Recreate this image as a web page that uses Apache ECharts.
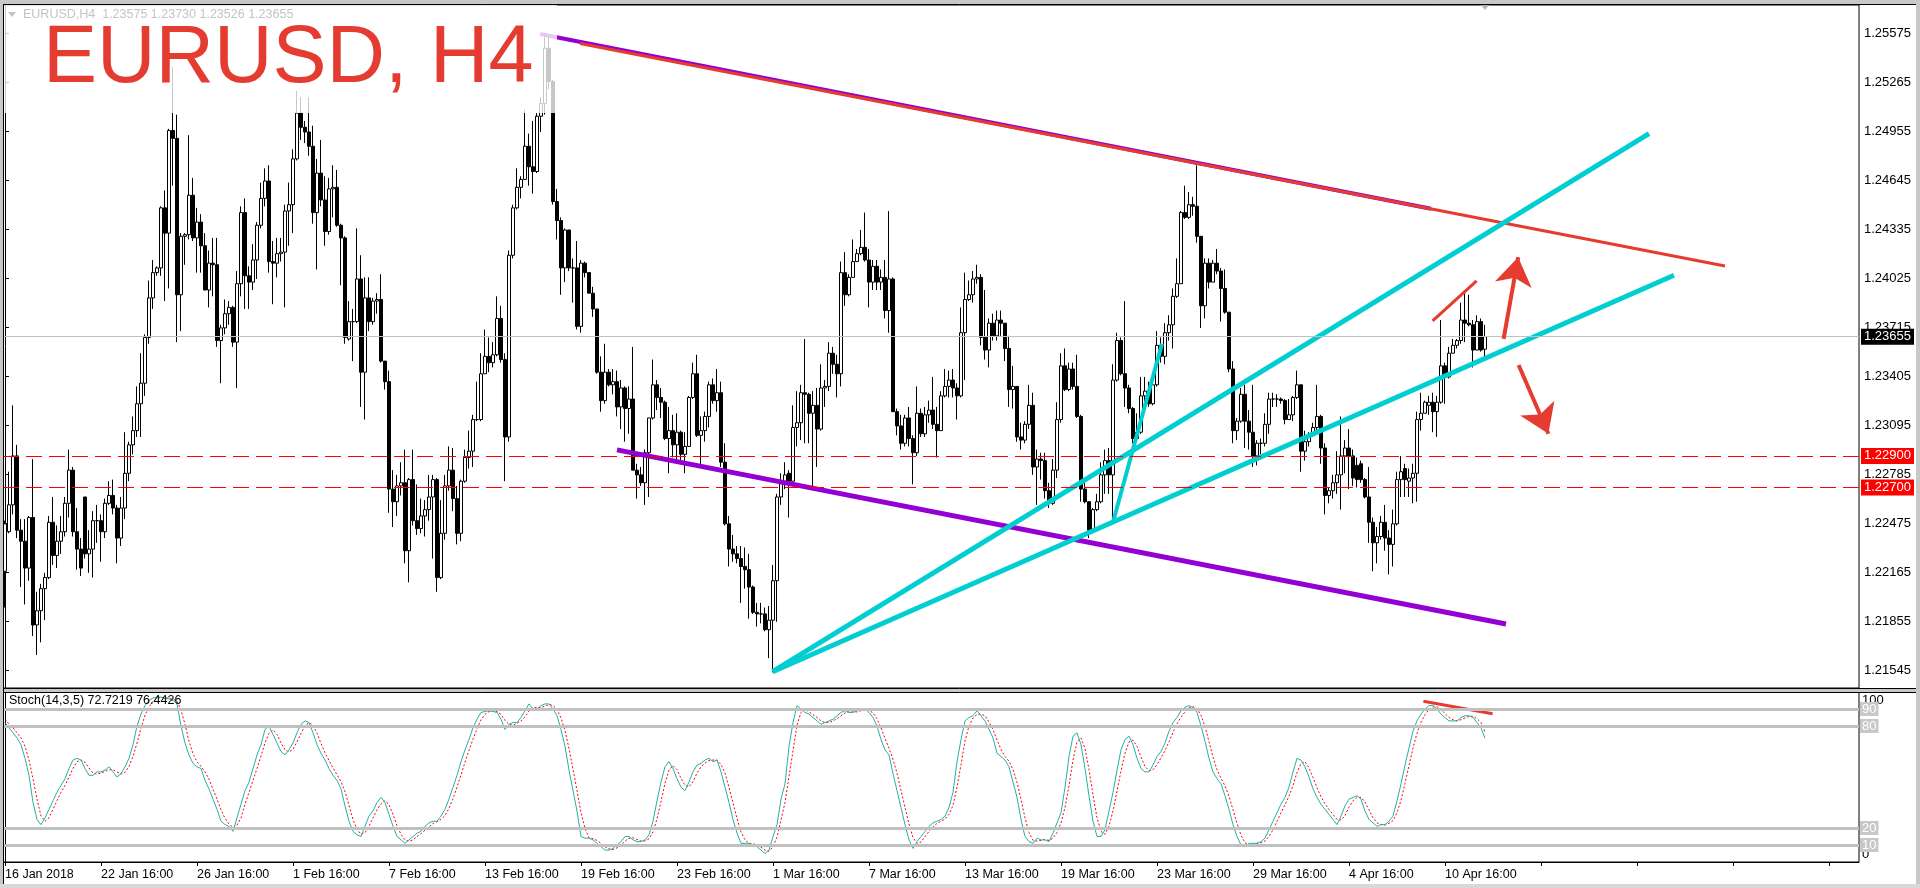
<!DOCTYPE html>
<html><head><meta charset="utf-8">
<script src="https://cdn.jsdelivr.net/npm/echarts@6/dist/echarts.min.js"></script>
<style>html,body{margin:0;padding:0;background:#fff;}#c{width:1920px;height:888px;}</style>
</head><body><div id="c"></div>
<script>
// ---------- DATA ----------
const opens = [
1.2217,1.2242,1.2259,1.2290,1.2243,1.2236,1.2219,1.2251,1.2183,1.2192,
1.2206,1.2213,1.2248,1.2227,1.2236,1.2242,1.2260,1.2281,1.2242,1.2231,
1.2264,1.2228,1.2231,1.2249,1.2249,1.2242,1.2260,1.2265,1.2257,1.2238,
1.2257,1.2279,1.2297,1.2306,1.2323,1.2336,1.2365,1.2390,1.2406,1.2409,
1.2447,1.2431,1.2496,1.2491,1.2392,1.2429,1.2430,1.2455,1.2428,1.2438,
1.2423,1.2395,1.2412,1.2411,1.2363,1.2371,1.2380,1.2384,1.2362,1.2399,
1.2444,1.2404,1.2400,1.2414,1.2436,1.2453,1.2464,1.2413,1.2412,1.2418,
1.2419,1.2445,1.2449,1.2478,1.2507,1.2498,1.2495,1.2486,1.2444,1.2469,
1.2452,1.2432,1.2459,1.2460,1.2436,1.2428,1.2364,1.2375,1.2375,1.2402,
1.2343,1.2390,1.2375,1.2388,1.2389,1.2350,1.2337,1.2269,1.2261,1.2271,
1.2273,1.2230,1.2275,1.2249,1.2244,1.2252,1.2256,1.2264,1.2275,1.2213,
1.2241,1.2271,1.2281,1.2263,1.2241,1.2274,1.2289,1.2293,1.2313,1.2313,
1.2342,1.2353,1.2349,1.2354,1.2377,1.2351,1.2302,1.2417,1.2447,1.2460,
1.2465,1.2486,1.2473,1.2470,1.2505,1.2513,1.2548,1.2527,1.2451,1.2439,
1.2409,1.2433,1.2409,1.2409,1.2372,1.2412,1.2406,1.2393,1.2383,1.2343,
1.2325,1.2343,1.2335,1.2337,1.2321,1.2333,1.2320,1.2326,1.2281,1.2278,
1.2273,1.2292,1.2314,1.2335,1.2327,1.2324,1.2301,1.2306,1.2297,1.2305,
1.2291,1.2296,1.2327,1.2342,1.2303,1.2306,1.2315,1.2335,1.2325,1.2330,
1.2286,1.2247,1.2231,1.2228,1.2225,1.2220,1.2218,1.2207,1.2191,1.2190,
1.2190,1.2180,1.2186,1.2211,1.2264,1.2273,1.2279,1.2274,1.2308,1.2311,
1.2330,1.2329,1.2317,1.2322,1.2307,1.2333,1.2334,1.2355,1.2348,1.2342,
1.2406,1.2392,1.2403,1.2413,1.2418,1.2422,1.2414,1.2400,1.2410,1.2400,
1.2403,1.2382,1.2402,1.2318,1.2309,1.2298,1.2314,1.2301,1.2292,1.2317,
1.2304,1.2316,1.2319,1.2310,1.2306,1.2328,1.2334,1.2338,1.2333,1.2328,
1.2368,1.2389,1.2392,1.2402,1.2403,1.2365,1.2357,1.2374,1.2366,1.2376,
1.2374,1.2358,1.2332,1.2334,1.2302,1.2300,1.2310,1.2322,1.2283,1.2288,
1.2287,1.2268,1.2260,1.2281,1.2313,1.2347,1.2332,1.2345,1.2334,1.2315,
1.2269,1.2261,1.2243,1.2256,1.2261,1.2278,1.2287,1.2278,1.2338,1.2363,
1.2342,1.2333,1.2320,1.2301,1.2305,1.2328,1.2331,1.2323,1.2335,1.2360,
1.2353,1.2368,1.2373,1.2391,1.2399,1.2444,1.2441,1.2449,1.2448,1.2429,
1.2385,1.2412,1.2400,1.2412,1.2407,1.2396,1.2381,1.2345,1.2306,1.2312,
1.2329,1.2312,1.2305,1.2290,1.2298,1.2298,1.2310,1.2326,1.2326,1.2326,
1.2325,1.2313,1.2316,1.2327,1.2335,1.2293,1.2299,1.2303,1.2308,1.2315,
1.2295,1.2265,1.2268,1.2273,1.2278,1.2290,1.2295,1.2290,1.2284,1.2285,
1.2275,1.2264,1.2248,1.2235,1.2239,1.2248,1.2238,1.2234,1.2247,1.2275,
1.2282,1.2274,1.2276,1.2279,1.2313,1.2317,1.2322,1.2324,1.2318,1.2324,
1.2347,1.2340,1.2355,1.2360,1.2363,1.2376,1.2374,1.2373,1.2357,1.2375,
1.23575];
const highs = [
1.2249,1.2280,1.2322,1.2297,1.2250,1.2250,1.2252,1.2288,1.2204,1.2209,
1.2216,1.2252,1.2264,1.2246,1.2252,1.2264,1.2294,1.2283,1.2257,1.2238,
1.2264,1.2243,1.2255,1.2259,1.2253,1.2263,1.2274,1.2275,1.2259,1.2264,
1.2305,1.2299,1.2315,1.2334,1.2355,1.2367,1.2401,1.2414,1.2410,1.2448,
1.2458,1.2497,1.2536,1.2506,1.2431,1.2431,1.2493,1.2466,1.2447,1.2443,
1.2431,1.2420,1.2428,1.2428,1.2373,1.2389,1.2388,1.2385,1.2407,1.2448,
1.2453,1.2410,1.2424,1.2438,1.2463,1.2472,1.2474,1.2426,1.2428,1.2428,
1.2449,1.2463,1.2484,1.2521,1.2517,1.2502,1.2517,1.2499,1.2478,1.2490,
1.2467,1.2466,1.2474,1.2471,1.2437,1.2429,1.2388,1.2383,1.2434,1.2417,
1.2403,1.2403,1.2390,1.2393,1.2405,1.2350,1.2344,1.2281,1.2278,1.2286,
1.2294,1.2276,1.2294,1.2272,1.2263,1.2262,1.2278,1.2278,1.2276,1.2262,
1.2278,1.2296,1.2295,1.2271,1.2275,1.2294,1.2306,1.2316,1.2337,1.2355,
1.2370,1.2365,1.2362,1.2391,1.2385,1.2355,1.2420,1.2449,1.2472,1.2467,
1.2509,1.2494,1.2502,1.2507,1.2517,1.2555,1.2555,1.2528,1.2459,1.2441,
1.2434,1.2433,1.2415,1.2426,1.2414,1.2413,1.2406,1.2397,1.2383,1.2353,
1.2361,1.2345,1.2345,1.2344,1.2338,1.2334,1.2334,1.2359,1.2285,1.2283,
1.2294,1.2314,1.2351,1.2338,1.2333,1.2325,1.2321,1.2316,1.2317,1.2306,
1.2305,1.2328,1.2349,1.2354,1.2315,1.2318,1.2337,1.2339,1.2345,1.2337,
1.2298,1.2252,1.2240,1.2233,1.2233,1.2232,1.2228,1.2208,1.2197,1.2197,
1.2194,1.2195,1.2221,1.2266,1.2279,1.2286,1.2281,1.2322,1.2331,1.2335,
1.2364,1.2330,1.2331,1.2333,1.2348,1.2338,1.2362,1.2359,1.2354,1.2413,
1.2419,1.2405,1.2427,1.2421,1.2433,1.2444,1.2421,1.2414,1.2414,1.2408,
1.2414,1.2445,1.2403,1.2320,1.2316,1.2316,1.2321,1.2303,1.2334,1.2320,
1.2321,1.2325,1.2340,1.2321,1.2331,1.2345,1.2344,1.2345,1.2336,1.2384,
1.2406,1.2401,1.2407,1.2411,1.2405,1.2395,1.2377,1.2380,1.2382,1.2382,
1.2374,1.2366,1.2347,1.2334,1.2311,1.2312,1.2335,1.2330,1.2294,1.2292,
1.2292,1.2273,1.2288,1.2324,1.2355,1.2358,1.2349,1.2349,1.2354,1.2316,
1.2275,1.2261,1.2257,1.2266,1.2286,1.2294,1.2295,1.2348,1.2368,1.2365,
1.2388,1.2335,1.2321,1.2317,1.2340,1.2340,1.2337,1.2340,1.2369,1.2365,
1.2374,1.2379,1.2396,1.2415,1.2445,1.2461,1.2457,1.2454,1.2474,1.2429,
1.2415,1.2415,1.2414,1.2421,1.2409,1.2408,1.2381,1.2350,1.2314,1.2333,
1.2335,1.2319,1.2335,1.2300,1.2301,1.2317,1.2330,1.2330,1.2329,1.2327,
1.2326,1.2326,1.2328,1.2344,1.2335,1.2306,1.2305,1.2311,1.2335,1.2316,
1.2298,1.2270,1.2278,1.2293,1.2315,1.2300,1.2307,1.2294,1.2289,1.2287,
1.2276,1.2283,1.2251,1.2245,1.2252,1.2259,1.2243,1.2256,1.2280,1.2290,
1.2285,1.2282,1.2285,1.2318,1.2330,1.2325,1.2328,1.2330,1.2328,1.2376,
1.2349,1.2359,1.2364,1.2364,1.2387,1.2393,1.2392,1.2376,1.2379,1.2377,
1.23730];
const lows = [
1.2194,1.2241,1.2253,1.2238,1.2207,1.2196,1.2211,1.2176,1.2164,1.2172,
1.2186,1.2212,1.2221,1.2219,1.2228,1.2239,1.2251,1.2239,1.2218,1.2214,
1.2225,1.2216,1.2213,1.2235,1.2223,1.2238,1.2259,1.2253,1.2222,1.2233,
1.2250,1.2274,1.2291,1.2302,1.2302,1.2328,1.2361,1.2383,1.2404,1.2404,
1.2388,1.2396,1.2461,1.2362,1.2369,1.2411,1.2427,1.2426,1.2406,1.2406,
1.2395,1.2384,1.2391,1.2359,1.2336,1.2367,1.2373,1.2359,1.2333,1.2391,
1.2383,1.2383,1.2395,1.2402,1.2434,1.2448,1.2406,1.2386,1.2403,1.2413,
1.2384,1.2423,1.2431,1.2477,1.2490,1.2488,1.2480,1.2437,1.2408,1.2448,
1.2423,1.2430,1.2441,1.2435,1.2398,1.2361,1.2363,1.2350,1.2374,1.2321,
1.2313,1.2369,1.2373,1.2380,1.2349,1.2332,1.2254,1.2245,1.2252,1.2265,
1.2222,1.2210,1.2246,1.2240,1.2241,1.2239,1.2249,1.2225,1.2204,1.2212,
1.2237,1.2268,1.2255,1.2234,1.2236,1.2273,1.2282,1.2283,1.2312,1.2312,
1.2342,1.2343,1.2346,1.2353,1.2349,1.2274,1.2299,1.2415,1.2446,1.2453,
1.2465,1.2461,1.2456,1.2469,1.2495,1.2506,1.2522,1.2449,1.2427,1.2392,
1.2400,1.2407,1.2387,1.2370,1.2368,1.2403,1.2393,1.2378,1.2342,1.2318,
1.2323,1.2334,1.2329,1.2315,1.2307,1.2299,1.2304,1.2281,1.2263,1.2271,
1.2259,1.2264,1.2313,1.2319,1.2314,1.2300,1.2279,1.2289,1.2287,1.2286,
1.2279,1.2296,1.2326,1.2302,1.2284,1.2299,1.2308,1.2323,1.2318,1.2283,
1.2246,1.2220,1.2223,1.2222,1.2197,1.2206,1.2187,1.2190,1.2182,1.2184,
1.2179,1.2162,1.2153,1.2185,1.2259,1.2269,1.2251,1.2274,1.2296,1.2300,
1.2298,1.2298,1.2270,1.2283,1.2306,1.2321,1.2331,1.2342,1.2327,1.2334,
1.2385,1.2391,1.2403,1.2413,1.2417,1.2413,1.2384,1.2395,1.2395,1.2395,
1.2377,1.2368,1.2318,1.2303,1.2294,1.2296,1.2296,1.2272,1.2290,1.2302,
1.2302,1.2311,1.2307,1.2289,1.2306,1.2327,1.2327,1.2327,1.2313,1.2327,
1.2338,1.2388,1.2387,1.2399,1.2360,1.2351,1.2346,1.2363,1.2363,1.2366,
1.2350,1.2321,1.2320,1.2299,1.2294,1.2298,1.2307,1.2278,1.2259,1.2275,
1.2263,1.2257,1.2259,1.2276,1.2311,1.2331,1.2331,1.2332,1.2314,1.2261,
1.2260,1.2238,1.2241,1.2255,1.2260,1.2266,1.2266,1.2250,1.2337,1.2341,
1.2321,1.2317,1.2298,1.2300,1.2304,1.2323,1.2321,1.2322,1.2334,1.2349,
1.2348,1.2363,1.2358,1.2390,1.2399,1.2440,1.2440,1.2442,1.2425,1.2371,
1.2377,1.2396,1.2400,1.2405,1.2375,1.2380,1.2343,1.2298,1.2300,1.2311,
1.2295,1.2294,1.2283,1.2284,1.2291,1.2296,1.2304,1.2321,1.2321,1.2323,
1.2310,1.2313,1.2312,1.2326,1.2280,1.2287,1.2296,1.2302,1.2306,1.2285,
1.2253,1.2260,1.2263,1.2266,1.2256,1.2279,1.2269,1.2271,1.2270,1.2273,
1.2263,1.2235,1.2217,1.2222,1.2237,1.2230,1.2215,1.2220,1.2246,1.2264,
1.2264,1.2264,1.2260,1.2261,1.2306,1.2317,1.2316,1.2305,1.2302,1.2323,
1.2323,1.2339,1.2355,1.2358,1.2361,1.2362,1.2372,1.2346,1.2357,1.2356,
1.23526];
const closes = [
1.2247,1.2259,1.2290,1.2243,1.2236,1.2219,1.2251,1.2183,1.2192,1.2206,
1.2213,1.2248,1.2227,1.2236,1.2242,1.2260,1.2281,1.2242,1.2231,1.2219,
1.2228,1.2231,1.2249,1.2249,1.2242,1.2260,1.2265,1.2257,1.2238,1.2257,
1.2279,1.2297,1.2306,1.2323,1.2336,1.2365,1.2390,1.2406,1.2409,1.2447,
1.2431,1.2496,1.2491,1.2392,1.2429,1.2430,1.2455,1.2428,1.2438,1.2423,
1.2395,1.2412,1.2411,1.2363,1.2371,1.2380,1.2384,1.2362,1.2399,1.2444,
1.2404,1.2400,1.2414,1.2436,1.2453,1.2464,1.2413,1.2412,1.2418,1.2419,
1.2445,1.2449,1.2478,1.2507,1.2498,1.2495,1.2486,1.2444,1.2469,1.2452,
1.2432,1.2459,1.2460,1.2436,1.2428,1.2365,1.2375,1.2375,1.2402,1.2343,
1.2390,1.2375,1.2388,1.2389,1.2350,1.2337,1.2269,1.2261,1.2271,1.2273,
1.2230,1.2275,1.2249,1.2244,1.2252,1.2256,1.2264,1.2275,1.2213,1.2241,
1.2271,1.2281,1.2263,1.2241,1.2274,1.2289,1.2293,1.2313,1.2313,1.2342,
1.2353,1.2349,1.2354,1.2377,1.2351,1.2302,1.2417,1.2447,1.2460,1.2465,
1.2486,1.2473,1.2470,1.2505,1.2513,1.2548,1.2527,1.2451,1.2439,1.2409,
1.2433,1.2409,1.2409,1.2372,1.2412,1.2406,1.2393,1.2383,1.2343,1.2325,
1.2343,1.2335,1.2337,1.2321,1.2333,1.2320,1.2326,1.2281,1.2278,1.2273,
1.2292,1.2314,1.2335,1.2327,1.2324,1.2301,1.2306,1.2297,1.2305,1.2291,
1.2296,1.2327,1.2342,1.2303,1.2306,1.2315,1.2335,1.2325,1.2330,1.2286,
1.2247,1.2231,1.2228,1.2225,1.2220,1.2218,1.2207,1.2191,1.2190,1.2190,
1.2180,1.2186,1.2211,1.2264,1.2273,1.2278,1.2274,1.2308,1.2311,1.2330,
1.2329,1.2317,1.2322,1.2307,1.2333,1.2334,1.2355,1.2348,1.2342,1.2406,
1.2392,1.2403,1.2413,1.2418,1.2422,1.2414,1.2400,1.2410,1.2400,1.2403,
1.2382,1.2402,1.2318,1.2309,1.2298,1.2314,1.2301,1.2292,1.2317,1.2304,
1.2316,1.2319,1.2310,1.2306,1.2328,1.2334,1.2338,1.2333,1.2328,1.2368,
1.2389,1.2392,1.2402,1.2403,1.2365,1.2357,1.2374,1.2366,1.2376,1.2374,
1.2358,1.2332,1.2334,1.2302,1.2300,1.2310,1.2322,1.2283,1.2288,1.2287,
1.2268,1.2260,1.2281,1.2313,1.2347,1.2332,1.2345,1.2334,1.2315,1.2269,
1.2261,1.2243,1.2256,1.2261,1.2278,1.2287,1.2278,1.2338,1.2363,1.2342,
1.2333,1.2320,1.2301,1.2305,1.2328,1.2331,1.2323,1.2335,1.2360,1.2353,
1.2368,1.2373,1.2391,1.2399,1.2444,1.2441,1.2449,1.2448,1.2429,1.2385,
1.2412,1.2400,1.2412,1.2407,1.2396,1.2381,1.2345,1.2306,1.2312,1.2329,
1.2312,1.2305,1.2290,1.2298,1.2298,1.2310,1.2326,1.2326,1.2326,1.2325,
1.2313,1.2316,1.2327,1.2335,1.2293,1.2299,1.2303,1.2308,1.2315,1.2295,
1.2265,1.2268,1.2273,1.2278,1.2290,1.2295,1.2290,1.2276,1.2275,1.2275,
1.2264,1.2248,1.2235,1.2239,1.2248,1.2238,1.2234,1.2247,1.2275,1.2280,
1.2275,1.2276,1.2279,1.2313,1.2317,1.2324,1.2324,1.2318,1.2324,1.2347,
1.2340,1.2355,1.2360,1.2363,1.2376,1.2374,1.2373,1.2357,1.2375,1.2357,
1.23655];
const stochMain = [
82,79,76,73,69,61,51,35,25,22,
26,31,36,41,45,49,55,60,61,60,
55,51,51,53,53,54,56,53,50,52,
56,61,69,80,87,92,95,96.5,97,97,
96,96,95,93,80,70,63,58,56,55,
48,43,37,31,24,22,21,18,26,34,
42,47,55,63,69,78,80,75,70,65,
63,66,70,76,81,83,82,76,69,64,
60,55,51,48,43,33,24,18,16,15,
21,27,30,35,38,35,28,21,15,13,
11,13,15,17,18,21,23,24,24,27,
31,37,44,51,59,66,72,79,84,88,
88.5,89,88.5,88,84,78,81,82,82,85,
89,93,90,90,92,93,93,90,86,78,
68,54,42,30,15,14,14,13,11,9,
7,7,8,10,12,15,15,13,12,12,
13,16,24,36,47,56,59,55,49,44,
42,47,53,57,58,60,61,59,60,53,
44,35,25,17,11,11,11,10,9,7,
5,7,15,22,37,46,68,82,92,90,
88,87,85,83,81,82,83,84,86,88,
89,88,88,89,90,90,88,85,80,72,
66,63,52,42,32,22,13,8,12,15,
18,21,23,24,25,27,32,41,59,72,
83,85,86,89,86,83,78,73,64,62,
60,56,47,38,25,15,12,11,14,13,
13,12,17,23,29,44,62,74,76,69,
55,39,24,15,15,19,30,41,54,66,
72,74,69,61,55,53,53,57,62,65,
70,77,82,85,89,91,92,91,88,80,
71,61,53,49,46,39,31,22,15,10,
9,11,11,11,12,14,19,24,29,34,
38,44,53,61,60,56,50,43,38,34,
31,28,25,22,27,33,37,38,39,37,
30,25,23,21,22,22,24,27,36,46,
57,67,77,83,87,90,92,92,90,87,
85,83,83,83,85,86,86,85,82,79,
72.7219];
const stochSignal = [
84,81,79,76,73,68,60,49,37,27,
24,26,31,36,41,45,50,55,59,60,
58.7,55.3,52.3,51.7,52.3,53.3,54.3,54.3,53,51.7,
52.7,56.3,62,70,78.7,86.3,91.3,94.5,96.2,96.8,
96.7,96.3,95.7,94.7,89.3,81,71,63.7,59,56.3,
53,48.7,42.7,37,30.7,25.7,22.3,20.3,21.7,26,
34,41,48,55,62.3,70,75.7,77.7,75,70,
66,64.7,66.3,70.7,75.7,80,82,80.3,75.7,69.7,
64.3,59.7,55.3,51.3,47.3,41.3,33.3,25,19.3,16.3,
17.3,21,26,30.7,34.3,36,33.7,28,21.3,16.3,
13,12.3,13,15,16.7,18.7,20.7,22.7,23.7,25,
27.3,31.7,37.3,44,51.3,58.7,65.7,72.3,78.3,83.7,
86.8,88.5,88.7,88.5,86.8,83.3,81,80.3,81.7,83,
85.3,89,90.7,91,90.7,91.7,92.7,92,89.7,84.7,
77.3,66.7,54.7,42,29,19.7,14.3,13.7,12.7,11,
9,7.7,7.3,8.3,10,12.3,14,14.3,13.3,12.3,
12.3,13.7,17.7,25.3,35.7,46.3,54,56.7,54.3,49.3,
45,44.3,47.3,52.3,56,58.3,59.7,60,60,57.3,
52.3,44,34.7,25.7,17.7,13,11,10.7,10,8.7,
7,6.3,9,14.7,24.7,35,50.3,65.3,80.7,88,
90,88.3,86.7,85,83,82,82,83,84.3,86,
87.7,88.3,88.3,88.3,89,89.7,89.3,87.7,84.3,79,
72.7,67,60.3,52.3,42,32,22.3,14.3,11,11.7,
15,18,20.7,22.7,24,25.3,28,33.3,44,57.3,
71.3,80,84.7,86.7,87,86,82.3,78,71.7,66.3,
62,59.3,54.3,47,36.7,26,17.3,12.7,12.3,12.7,
13.3,12.7,14,17.3,23,32,45,60,70.7,73,
66.7,54.3,39.3,26,18,16.3,21.3,30,41.7,53.7,
64,70.7,71.7,68,61.7,56.3,53.7,54.3,57.3,61.3,
65.7,70.7,76.3,81.3,85.3,88.3,90.7,91.3,90.3,86.3,
79.7,70.7,61.7,54.3,49.3,44.7,38.7,30.7,22.7,15.7,
11.3,10,10.3,11,11.3,12.3,15,19,24,29,
33.7,38.7,45,52.7,58,59,55.3,49.7,43.7,38.3,
34.3,31,28,25,24.7,27.3,32.3,36,38,38,
35.3,30.7,26,23,22,21.7,22.7,24.3,29,36.3,
46.3,56.7,67,75.7,82.3,86.7,89.7,91.3,91.3,89.7,
87.3,85,83.7,83,83.7,84.7,85.7,85.7,84.3,82,
76.4426];
const timeLabels = ['16 Jan 2018','22 Jan 16:00','26 Jan 16:00','1 Feb 16:00','7 Feb 16:00','13 Feb 16:00','19 Feb 16:00','23 Feb 16:00','1 Mar 16:00','7 Mar 16:00','13 Mar 16:00','19 Mar 16:00','23 Mar 16:00','29 Mar 16:00','4 Apr 16:00','10 Apr 16:00'];
const priceTicks = [1.21545,1.21855,1.22165,1.22475,1.22785,1.23095,1.23405,1.23715,1.24025,1.24335,1.24645,1.24955,1.25265,1.25575];
const levelLines = [1.22900, 1.22700];
const lastPrice = 1.23655;
const stochLevels = [90, 80, 20, 10];
const lastBar = {o:'1.23575', h:'1.23730', l:'1.23526', c:'1.23655'};
// drawn objects, in (bar index, price)
const topLinePurple = [[133.75, 1.25571], [356.5, 1.24464]];
const topLineRed = [[143.75, 1.25510], [430, 1.24102]];
const lowLinePurple = [[153, 1.22938], [375.25, 1.21836]];
const cyanUpper = [[191.9, 1.21534], [411, 1.24940]];
const cyanLower = [[191.9, 1.21534], [417.25, 1.24044]];
const cyanSteep = [[277, 1.22482], [289.25, 1.23610]];
const redShort = [[356.9, 1.23755], [367.9, 1.24008]];
const arrowUp = [[374.65, 1.23641], [378.3, 1.24158]];
const arrowDown = [[378.4, 1.23475], [385.85, 1.23040]];
const stochRedLine = [[354.6, 94.6], [371.9, 87.2]];

// ---------- LAYOUT ----------
const SLOTS = 464;
const PRICE_MIN = 1.21431, PRICE_MAX = 1.25754;
const FONT = 'Liberation Sans, Arial, sans-serif';
const slots = Array.from({length: SLOTS}, (_, i) => String(i));
const candleData = opens.map((o, i) => [o, closes[i], lows[i], highs[i]]);

const chart = echarts.init(document.getElementById('c'), null, {renderer:'canvas', width:1920, height:888, devicePixelRatio:1});

function hLabel(bg, fg) {
  return {show:true, position:'end', distance:2, formatter: p => Number(p.value).toFixed(5),
    backgroundColor:bg, color:fg, fontFamily:FONT, fontSize:13, padding:[2,3,1,3]};
}

const option = {
  animation:false,
  backgroundColor:'#ffffff',
  grid:[
    {left:3, top:5, width:1856, height:683, show:true, borderColor:'#000', borderWidth:1, backgroundColor:'#fff', outerBoundsMode:'none', containLabel:false},
    {left:3, top:692, width:1856, height:170, show:true, borderColor:'#000', borderWidth:1, backgroundColor:'#fff', outerBoundsMode:'none', containLabel:false}
  ],
  xAxis:[
    {type:'category', gridIndex:0, data:slots, boundaryGap:true, axisLine:{show:false}, axisTick:{show:false}, axisLabel:{show:false}, splitLine:{show:false}},
    {type:'category', gridIndex:1, data:slots, boundaryGap:true,
      axisLine:{show:true, lineStyle:{color:'#000'}},
      axisTick:{show:true, interval:23, alignWithLabel:true, length:4, lineStyle:{color:'#000'}},
      axisLabel:{show:true, interval:23, color:'#000', fontFamily:FONT, fontSize:12.5, align:'left', margin:6,
        formatter:(v, i) => timeLabels[i / 24] || ''},
      splitLine:{show:false}},
    {type:'value', gridIndex:0, min:-0.5, max:SLOTS - 0.5, show:false},
    {type:'value', gridIndex:1, min:-0.5, max:SLOTS - 0.5, show:false}
  ],
  yAxis:[
    {type:'value', gridIndex:0, position:'right', min:PRICE_MIN, max:PRICE_MAX, scale:true,
      splitLine:{show:false},
      axisLine:{show:true, lineStyle:{color:'#000'}},
      axisTick:{show:true, length:4, customValues:priceTicks, lineStyle:{color:'#000'}},
      axisLabel:{show:true, customValues:priceTicks, color:'#000', fontFamily:FONT, fontSize:13, margin:5,
        formatter:v => v.toFixed(5)}},
    {type:'value', gridIndex:1, position:'right', min:0, max:100,
      splitLine:{show:false},
      axisLine:{show:true, lineStyle:{color:'#000'}},
      axisTick:{show:false},
      axisLabel:{show:true, customValues:[0, 100], color:'#000', fontFamily:FONT, fontSize:13, margin:3,
        formatter:v => v === 100 ? '{t|100}' : '{b|0}',
        rich:{t:{padding:[17,0,0,0], fontSize:13, fontFamily:FONT, color:'#000'}, b:{padding:[0,0,16,0], fontSize:13, fontFamily:FONT, color:'#000'}}}}
  ],
  series:[
    // bid line under candles
    {type:'line', xAxisIndex:0, yAxisIndex:0, data:[], z:1, silent:true,
      markLine:{symbol:'none', silent:true, animation:false, precision:5,
        data:[{yAxis:lastPrice, lineStyle:{color:'#c0c0c0', width:1, type:'solid'}, label:hLabel('#000', '#fff')}]}},
    {type:'candlestick', name:'EURUSD', xAxisIndex:0, yAxisIndex:0, data:candleData, barWidth:3, z:2,
      itemStyle:{color:'#ffffff', color0:'#000000', borderColor:'#000000', borderColor0:'#000000', borderColorDoji:'#000000', borderWidth:1}},
    // horizontal levels
    {type:'line', xAxisIndex:0, yAxisIndex:0, data:[], z:3, silent:true,
      markLine:{symbol:'none', silent:true, animation:false, precision:5,
        data:levelLines.map(v => ({yAxis:v, lineStyle:{color:'#ff0000', width:1, type:[16,7]}, label:hLabel('#ff0000', '#fff')}))}},
    // trend lines
    {type:'lines', coordinateSystem:'cartesian2d', xAxisIndex:2, yAxisIndex:0, z:4, silent:true, symbol:'none',
      data:[
        {coords:topLinePurple, lineStyle:{color:'#9400d3', width:4, opacity:1}},
        {coords:topLineRed, lineStyle:{color:'#e63c30', width:3, opacity:1}},
        {coords:lowLinePurple, lineStyle:{color:'#9400d3', width:5, opacity:1}},
        {coords:cyanUpper, lineStyle:{color:'#00ced1', width:5, opacity:1}},
        {coords:cyanLower, lineStyle:{color:'#00ced1', width:5, opacity:1}},
        {coords:cyanSteep, lineStyle:{color:'#00ced1', width:4, opacity:1}},
        {coords:redShort, lineStyle:{color:'#e63c30', width:3, opacity:1}}
      ]},
    // arrows
    {type:'lines', coordinateSystem:'cartesian2d', xAxisIndex:2, yAxisIndex:0, z:5, silent:true,
      symbol:['none', 'arrow'], symbolSize:28,
      lineStyle:{color:'#e63c30', width:4, opacity:1},
      data:[{coords:arrowUp}, {coords:arrowDown}]},
    // stochastic levels
    {type:'line', xAxisIndex:1, yAxisIndex:1, data:[], z:1, silent:true,
      markLine:{symbol:'none', silent:true, animation:false, precision:0,
        data:stochLevels.map(v => ({yAxis:v, lineStyle:{color:'#c0c0c0', width:3, type:'solid'},
          label:{show:true, position:'end', distance:1, formatter:String(v), backgroundColor:'#c8c8c8', color:'#fff', fontFamily:FONT, fontSize:13, padding:[1,2,0,2]}}))}},
    {type:'line', name:'Signal', xAxisIndex:1, yAxisIndex:1, data:stochSignal, z:2, showSymbol:false, symbol:'none',
      lineStyle:{color:'#ff0000', width:1, type:[2,2]}},
    {type:'line', name:'Main', xAxisIndex:1, yAxisIndex:1, data:stochMain, z:3, showSymbol:false, symbol:'none',
      lineStyle:{color:'#20b2aa', width:1}},
    {type:'lines', coordinateSystem:'cartesian2d', xAxisIndex:3, yAxisIndex:1, z:4, silent:true, symbol:'none',
      data:[{coords:stochRedLine, lineStyle:{color:'#e63c30', width:3, opacity:1}}]}
  ],
  graphic:[
    // window frame
    {type:'rect', shape:{x:0, y:0, width:1920, height:4}, style:{fill:'#c8c8c8'}, z:40, silent:true},
    {type:'rect', shape:{x:0, y:0, width:3, height:888}, style:{fill:'#c8c8c8'}, z:40, silent:true},
    {type:'rect', shape:{x:1916, y:0, width:4, height:888}, style:{fill:'#c8c8c8'}, z:40, silent:true},
    {type:'rect', shape:{x:0, y:884, width:1920, height:4}, style:{fill:'#d8d8d8'}, z:40, silent:true},
    {type:'line', shape:{x1:3, y1:4.5, x2:1916, y2:4.5}, style:{stroke:'#000', lineWidth:1}, z:41, silent:true},
    {type:'rect', shape:{x:3, y:689, width:1913, height:3}, style:{fill:'#c8c8c8'}, z:40, silent:true},
    {type:'line', shape:{x1:3, y1:688.5, x2:1916, y2:688.5}, style:{stroke:'#000', lineWidth:1}, z:41, silent:true},
    {type:'line', shape:{x1:3, y1:692.5, x2:1916, y2:692.5}, style:{stroke:'#000', lineWidth:1}, z:41, silent:true},
    {type:'line', shape:{x1:3.5, y1:4, x2:3.5, y2:884}, style:{stroke:'#000', lineWidth:1}, z:41, silent:true},
    // faded zone behind the big label
    {type:'rect', shape:{x:4, y:5, width:553, height:108}, style:{fill:'rgba(255,255,255,0.78)'}, z:50, silent:true},
    // header
    {type:'polygon', shape:{points:[[8,12],[16,12],[12,17]]}, style:{fill:'#c4c4c4'}, z:60, silent:true},
    {type:'text', x:23, y:15, style:{text:'EURUSD,H4  ' + lastBar.o + ' ' + lastBar.h + ' ' + lastBar.l + ' ' + lastBar.c,
      fill:'#c4c4c4', fontFamily:FONT, fontSize:12.5, textAlign:'left', textVerticalAlign:'middle', align:'left', verticalAlign:'middle'}, z:60, silent:true},
    {type:'polygon', shape:{points:[[1481,5],[1489,5],[1485,10]]}, style:{fill:'#b4b4b4'}, z:60, silent:true},
    // big title
    {type:'text', x:43, y:60, style:{text:'EURUSD, H4', fill:'#e53c32', fontFamily:FONT, fontSize:81,
      textAlign:'left', textVerticalAlign:'middle', align:'left', verticalAlign:'middle'}, z:60, silent:true},
    // stochastic caption
    {type:'text', x:9, y:701, style:{text:'Stoch(14,3,5) ' + stochMain[stochMain.length-1].toFixed(4) + ' ' + stochSignal[stochSignal.length-1].toFixed(4),
      fill:'#000', fontFamily:FONT, fontSize:12.5, textAlign:'left', textVerticalAlign:'middle', align:'left', verticalAlign:'middle'}, z:60, silent:true}
  ]
};
chart.setOption(option);
</script></body></html>
